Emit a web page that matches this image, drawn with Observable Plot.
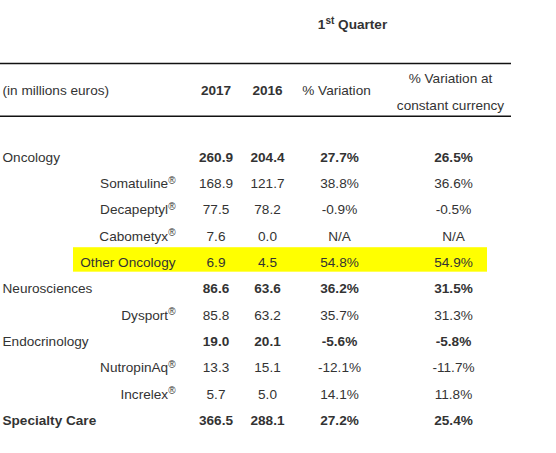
<!DOCTYPE html>
<html>
<head>
<meta charset="utf-8">
<script src="https://cdn.jsdelivr.net/npm/d3@7"></script>
<script src="https://cdn.jsdelivr.net/npm/@observablehq/plot@0.6"></script>
<style>
  html, body { margin: 0; padding: 0; background: #fff; }
  #chart svg { display: block; }
</style>
</head>
<body>
<div id="chart"></div>
<script>
// ---- data ----
const title = "1st Quarter";
const unitLabel = "(in millions euros)";
const columnHeaders = ["2017", "2016", "% Variation", "% Variation at\nconstant currency"];
const rowLabels = ["Oncology", "Somatuline", "Decapeptyl", "Cabometyx", "Other Oncology",
  "Neurosciences", "Dysport", "Endocrinology", "NutropinAq", "Increlex", "Specialty Care"];
const rowLevels = ["cat", "prod", "prod", "prod", "prod", "cat", "prod", "cat", "prod", "prod", "total"];
const registered = [false, true, true, true, false, false, true, false, true, true, false];
const values2017 = [260.9, 168.9, 77.5, 7.6, 6.9, 86.6, 85.8, 19.0, 13.3, 5.7, 366.5];
const values2016 = [204.4, 121.7, 78.2, 0.0, 4.5, 63.6, 63.2, 20.1, 15.1, 5.0, 288.1];
const variation = [27.7, 38.8, -0.9, null, 54.8, 36.2, 35.7, -5.6, -12.1, 14.1, 27.2];
const variationCC = [26.5, 36.6, -0.5, null, 54.9, 31.5, 31.3, -5.8, -11.7, 11.8, 25.4];
const highlighted = "Other Oncology";

// ---- layout (column anchors in px, rows in row units) ----
const colX = {cat: 2, prodEnd: 175, c2017: 215.5, c2016: 267, cVar: 339, cCC: 453, title: 352,
  hVar: 336, hCC: 450, ruleEnd: 511, hlStart: 73, hlEnd: 487};
const rowPos = {title: -5.06, ruleTop: -3.57, header: -2.55, ruleBottom: -1.57};
const textColor = "#333";
const fs = 13.6;

const rows = rowLabels.map((label, i) => ({
  i, label, level: rowLevels[i], reg: registered[i],
  v2017: values2017[i], v2016: values2016[i], vr: variation[i], vcc: variationCC[i]
}));
const num = v => v.toFixed(1);
const pct = v => v == null ? "N/A" : v.toFixed(1) + "%";
const isBold = d => d.level !== "prod";

const common = {fontSize: fs, fill: textColor, y: "i"};
const valueCols = [
  {key: "v2017", x: colX.c2017, fmt: num},
  {key: "v2016", x: colX.c2016, fmt: num},
  {key: "vr", x: colX.cVar, fmt: pct},
  {key: "vcc", x: colX.cCC, fmt: pct}
];
const valueMarks = [];
for (const c of valueCols) {
  for (const bold of [true, false]) {
    valueMarks.push(Plot.text(rows.filter(d => isBold(d) === bold), {
      ...common, x: () => c.x, text: d => c.fmt(d[c.key]), textAnchor: "middle",
      fontWeight: bold ? "bold" : "normal"
    }));
  }
}

const headers = [
  {text: columnHeaders[0], x: colX.c2017, kind: "bold"},
  {text: columnHeaders[1], x: colX.c2016, kind: "bold"},
  {text: columnHeaders[2], x: colX.hVar, kind: "plain"},
  {text: columnHeaders[3], x: colX.hCC, kind: "multi"}
];

const chart = Plot.plot({
  width: 556,
  height: 453,
  margin: 0,
  style: {fontFamily: "'Liberation Sans', Arial, sans-serif", background: "#fff", color: textColor},
  x: {type: "linear", domain: [0, 556], range: [0, 556], axis: null},
  y: {type: "linear", domain: [0, 10], range: [157, 420], axis: null},
  marks: [
    // highlighter band
    Plot.rect(rows.filter(d => d.label === highlighted), {
      x1: () => colX.hlStart, x2: () => colX.hlEnd,
      y1: d => d.i - 0.57, y2: d => d.i + 0.36, fill: "#ffff00"
    }),
    // rules
    Plot.ruleY([rowPos.ruleTop, rowPos.ruleBottom], {x1: 0, x2: colX.ruleEnd, stroke: "#111", strokeWidth: 1.5}),
    // title
    Plot.text([title], {x: () => colX.title, y: () => rowPos.title, text: d => d,
      fontSize: fs, fontWeight: "bold", fill: textColor, textAnchor: "middle"}),
    // header
    Plot.text([unitLabel], {x: () => colX.cat, y: () => rowPos.header, text: d => d,
      fontSize: fs, fill: textColor, textAnchor: "start"}),
    Plot.text(headers.filter(h => h.kind === "bold"), {x: "x", y: () => rowPos.header, text: "text",
      fontSize: fs, fontWeight: "bold", fill: textColor, textAnchor: "middle"}),
    Plot.text(headers.filter(h => h.kind === "plain"), {x: "x", y: () => rowPos.header, text: "text",
      fontSize: fs, fill: textColor, textAnchor: "middle"}),
    Plot.text(headers.filter(h => h.kind === "multi"), {x: "x", y: () => rowPos.header, text: "text",
      fontSize: fs, fill: textColor, textAnchor: "middle", lineHeight: 1.98, dy: -3}),
    // row labels
    Plot.text(rows.filter(d => d.level === "cat"), {...common, x: () => colX.cat, text: "label", textAnchor: "start"}),
    Plot.text(rows.filter(d => d.level === "total"), {...common, x: () => colX.cat, text: "label", textAnchor: "start", fontWeight: "bold"}),
    Plot.text(rows.filter(d => d.level === "prod"), {...common, x: () => colX.prodEnd,
      text: d => d.reg ? d.label + "®" : d.label, textAnchor: "end"}),
    ...valueMarks
  ]
});

// superscripts (® and "st")
d3.select(chart).selectAll("text").each(function () {
  const el = d3.select(this);
  if (el.selectAll("tspan").size() > 0) return;
  const t = el.text();
  if (t.endsWith("®")) {
    el.text(t.slice(0, -1));
    el.append("tspan").attr("font-size", 10).attr("dy", "-0.45em").text("®");
  } else if (t === title) {
    el.text("1");
    el.append("tspan").attr("font-size", 10).attr("dy", "-0.5em").text("st");
    el.append("tspan").attr("dy", "0.36em").text(" Quarter");
  }
});

document.getElementById("chart").appendChild(chart);
</script>
</body>
</html>
